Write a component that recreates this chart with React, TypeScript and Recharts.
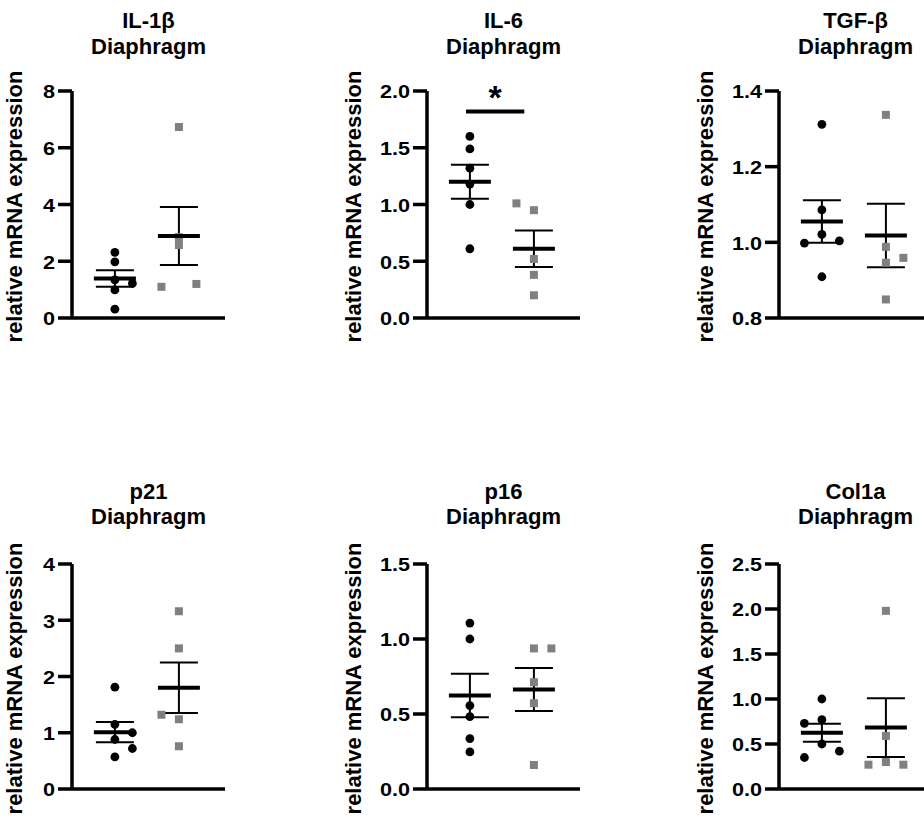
import React from 'react';
import { ScatterChart, Scatter, XAxis, YAxis, ErrorBar, ReferenceLine } from 'recharts';

// values; group 1 = circles, group 2 = grey squares
// slots: -1 left / 0 centre / 1 right of the column (the graph's jitter)
const il1bCircles = [2.31, 1.98, 1.34, 1.22, 0.99, 0.31];
const il1bCircleSlots = [0, 0, 0, 1, 0, 0];
const il1bSquares = [6.73, 2.85, 2.57, 1.1, 1.2];
const il1bSquareSlots = [0, 0, 0, -1, 1];
const il1bMean = [1.39, 2.89];
const il1bSem = [0.29, 1.02];
const il1bTicks = [0, 2, 4, 6, 8];

const il6Circles = [1.6, 1.49, 1.32, 1.18, 1.0, 0.61];
const il6CircleSlots = [0, 0, 0, 0, 0, 0];
const il6Squares = [1.01, 0.95, 0.52, 0.38, 0.2];
const il6SquareSlots = [-1, 0, 0, 0, 0];
const il6Mean = [1.2, 0.61];
const il6Sem = [0.15, 0.16];
const il6Ticks = [0, 0.5, 1, 1.5, 2];
const il6Sig = { from: 0.94, to: 1.85, y: 1.82, label: '*' };

const tgfbCircles = [1.312, 1.086, 1.021, 0.998, 1.004, 0.909];
const tgfbCircleSlots = [0, 0, 0, -1, 1, 0];
const tgfbSquares = [1.337, 0.988, 0.946, 0.959, 0.849];
const tgfbSquareSlots = [0, 0, 0, 1, 0];
const tgfbMean = [1.055, 1.018];
const tgfbSem = [0.056, 0.084];
const tgfbTicks = [0.8, 1.0, 1.2, 1.4];

const p21Circles = [1.81, 1.15, 1.0, 0.88, 0.72, 0.57];
const p21CircleSlots = [0, 0, 1, 0, 1, 0];
const p21Squares = [3.16, 2.5, 1.32, 1.24, 0.76];
const p21SquareSlots = [0, 0, -1, 0, 0];
const p21Mean = [1.01, 1.8];
const p21Sem = [0.18, 0.45];
const p21Ticks = [0, 1, 2, 3, 4];

const p16Circles = [1.106, 1.0, 0.556, 0.483, 0.336, 0.247];
const p16CircleSlots = [0, 0, 0, 0, 0, 0];
const p16Squares = [0.937, 0.937, 0.712, 0.572, 0.16];
const p16SquareSlots = [0, 1, 0, 0, 0];
const p16Mean = [0.623, 0.663];
const p16Sem = [0.145, 0.143];
const p16Ticks = [0, 0.5, 1, 1.5];

const col1aCircles = [1.0, 0.73, 0.77, 0.5, 0.42, 0.35];
const col1aCircleSlots = [0, -1, 0, 0, 1, -1];
const col1aSquares = [1.98, 0.59, 0.27, 0.3, 0.27];
const col1aSquareSlots = [0, 0, -1, 0, 1];
const col1aMean = [0.626, 0.682];
const col1aSem = [0.1, 0.326];
const col1aTicks = [0, 0.5, 1, 1.5, 2, 2.5];

const FONT = '"Liberation Sans", Arial, Helvetica, sans-serif';
const JITTER = 0.273;
const Y_AXIS_W = 90;
const PLOT_W = 153;

const toPoints = (vals: number[], slots: number[], group: number) =>
  vals.map((v, i) => ({ x: group + slots[i] * JITTER, y: v }));

const YTick = ({ x, y, payload, decimals }: any) => (
  <text
    transform={`translate(${x},${y + 1}) scale(1.2,1)`}
    textAnchor="end"
    dominantBaseline="central"
    fontFamily={FONT}
    fontWeight="bold"
    fontSize={18}
    fill="#000"
  >
    {Number(payload.value).toFixed(decimals)}
  </text>
);

const Circle = (p: any) => <circle cx={p.cx} cy={p.cy} r={4.4} fill="#000" />;
const Square = (p: any) => <rect x={p.cx - 4} y={p.cy - 4} width={8} height={8} fill="#808080" />;
const MeanBar = (p: any) => (
  <line x1={p.cx - 21} x2={p.cx + 21} y1={p.cy} y2={p.cy} stroke="#000" strokeWidth={4} />
);

function Panel({ cfg, axisX, top, plotH, titleY }: any) {
  const height = 91 + plotH + 2 + 40;
  const circles = toPoints(cfg.circles, cfg.circleSlots, 1);
  const squares = toPoints(cfg.squares, cfg.squareSlots, 2);
  const means = cfg.mean.map((m: number, i: number) => ({ x: i + 1, y: m, sem: cfg.sem[i] }));
  const lo = cfg.ticks[0];
  const hi = cfg.ticks[cfg.ticks.length - 1];
  const midX = Y_AXIS_W + PLOT_W / 2;
  return (
    <div style={{ position: 'absolute', left: axisX - Y_AXIS_W, top }}>
      <ScatterChart
        width={Y_AXIS_W + PLOT_W + 10}
        height={height}
        margin={{ top: 91, right: 10, bottom: 40, left: 0 }}
      >
        <text x={midX} y={titleY[0]} textAnchor="middle" fontFamily={FONT} fontWeight="bold" fontSize={22} fill="#000">
          {cfg.title}
        </text>
        <text x={midX} y={titleY[1]} textAnchor="middle" fontFamily={FONT} fontWeight="bold" fontSize={22} fill="#000">
          Diaphragm
        </text>
        <text
          transform={`translate(${Y_AXIS_W + cfg.labelDx},${91 + plotH / 2 + 2}) rotate(-90)`}
          textAnchor="middle"
          dominantBaseline="central"
          fontFamily={FONT}
          fontWeight="bold"
          fontSize={22}
          fill="#000"
        >
          relative mRNA expression
        </text>
        <XAxis
          type="number"
          dataKey="x"
          domain={[0.33, 2.72]}
          allowDataOverflow
          tick={false}
          tickLine={false}
          height={2}
          axisLine={{ stroke: '#000', strokeWidth: 3.5 }}
        />
        <YAxis
          type="number"
          dataKey="y"
          domain={[lo, hi]}
          ticks={cfg.ticks}
          interval={0}
          width={Y_AXIS_W}
          tickSize={14}
          tickMargin={3}
          axisLine={{ stroke: '#000', strokeWidth: 3.5 }}
          tickLine={{ stroke: '#000', strokeWidth: 3.5 }}
          tick={<YTick decimals={cfg.decimals} />}
        />
        <Scatter data={circles} shape={Circle} isAnimationActive={false} />
        <Scatter data={squares} shape={Square} isAnimationActive={false} />
        <Scatter data={means} shape={MeanBar} isAnimationActive={false}>
          <ErrorBar dataKey="sem" direction="y" width={19} stroke="#000" strokeWidth={2} />
        </Scatter>
        {cfg.sig && (
          <ReferenceLine
            segment={[
              { x: cfg.sig.from, y: cfg.sig.y },
              { x: cfg.sig.to, y: cfg.sig.y },
            ]}
            stroke="#000"
            strokeWidth={4}
            label={(props: any) => {
              const vb = props.viewBox || {};
              const cx = (vb.x ?? 0) + (vb.width ?? 0) / 2;
              return (
                <text x={cx} y={(vb.y ?? 0) - 2} textAnchor="middle" fontFamily={FONT} fontWeight="bold" fontSize={34} fill="#000">
                  {cfg.sig.label}
                </text>
              );
            }}
          />
        )}
      </ScatterChart>
    </div>
  );
}

const topRow = [
  { title: 'IL-1β', circles: il1bCircles, circleSlots: il1bCircleSlots, squares: il1bSquares, squareSlots: il1bSquareSlots, mean: il1bMean, sem: il1bSem, ticks: il1bTicks, decimals: 0, labelDx: -58 },
  { title: 'IL-6', circles: il6Circles, circleSlots: il6CircleSlots, squares: il6Squares, squareSlots: il6SquareSlots, mean: il6Mean, sem: il6Sem, ticks: il6Ticks, decimals: 1, labelDx: -74, sig: il6Sig },
  { title: 'TGF-β', circles: tgfbCircles, circleSlots: tgfbCircleSlots, squares: tgfbSquares, squareSlots: tgfbSquareSlots, mean: tgfbMean, sem: tgfbSem, ticks: tgfbTicks, decimals: 1, labelDx: -74 },
];
const bottomRow = [
  { title: 'p21', circles: p21Circles, circleSlots: p21CircleSlots, squares: p21Squares, squareSlots: p21SquareSlots, mean: p21Mean, sem: p21Sem, ticks: p21Ticks, decimals: 0, labelDx: -58 },
  { title: 'p16', circles: p16Circles, circleSlots: p16CircleSlots, squares: p16Squares, squareSlots: p16SquareSlots, mean: p16Mean, sem: p16Sem, ticks: p16Ticks, decimals: 1, labelDx: -74 },
  { title: 'Col1a', circles: col1aCircles, circleSlots: col1aCircleSlots, squares: col1aSquares, squareSlots: col1aSquareSlots, mean: col1aMean, sem: col1aSem, ticks: col1aTicks, decimals: 1, labelDx: -74 },
];
const AXIS_X = [72, 427, 779];

export default function App() {
  return (
    <div style={{ position: 'absolute', left: 0, top: 0, width: 924, height: 821, overflow: 'hidden', background: '#fff' }}>
      {topRow.map((cfg, i) => (
        <Panel key={cfg.title} cfg={cfg} axisX={AXIS_X[i]} top={0} plotH={227} titleY={[28, 54]} />
      ))}
      {bottomRow.map((cfg, i) => (
        <Panel key={cfg.title} cfg={cfg} axisX={AXIS_X[i]} top={473} plotH={225} titleY={[26, 51]} />
      ))}
    </div>
  );
}
